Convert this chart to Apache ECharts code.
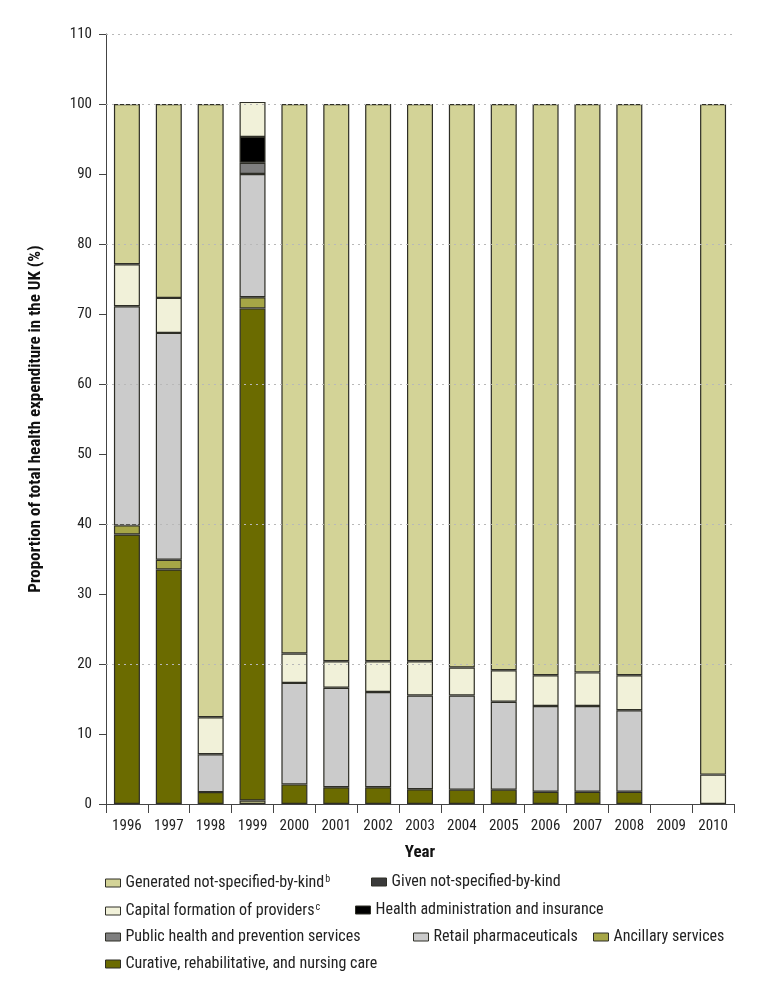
<!DOCTYPE html>
<html>
<head>
<meta charset="utf-8">
<script src="https://cdn.jsdelivr.net/npm/echarts@6/dist/echarts.min.js"></script>
<style>
html,body{margin:0;padding:0;background:#fff;}
#chart{width:771px;height:989px;}
</style>
</head>
<body>
<div id="chart"></div>
<script>
var years = ['1996','1997','1998','1999','2000','2001','2002','2003','2004','2005','2006','2007','2008','2009','2010'];
// bottom khaki slice drawn under curative care in 1999
var generatedBottom = [null,null,null,0.5,null,null,null,null,null,null,null,null,null,null,null];
var curative   = [38.5,33.5,1.7,70.3,2.8,2.4,2.4,2.1,2.05,2.05,1.75,1.75,1.75,null,null];
var ancillary  = [1.3,1.4,null,1.6,null,null,null,null,null,null,null,null,null,null,null];
var retail     = [31.3,32.4,5.4,17.6,14.5,14.2,13.6,13.4,13.45,12.55,12.25,12.25,11.65,null,null];
var publicHealth = [null,null,null,1.6,null,null,null,null,null,null,null,null,null,null,null];
var healthAdmin  = [null,null,null,3.7,null,null,null,null,null,null,null,null,null,null,null];
var givenNSK     = [null,null,null,null,null,null,null,null,null,null,null,null,null,null,null];
var capital    = [6.0,5.0,5.3,5.0,4.2,3.8,4.4,4.9,4.0,4.5,4.4,4.8,5.0,null,4.2];
var generated  = [22.9,27.7,87.6,null,78.5,79.6,79.6,79.6,80.5,80.9,81.6,81.2,81.6,null,95.8];
var gridValues = [20,40,60,80,100,110];
var yTicks = {min:0, max:110, interval:10};

var FONT = '"Roboto Condensed", "Liberation Sans Narrow", "DejaVu Sans Condensed", Roboto, sans-serif';
var names = {
  gen: 'Generated not-specified-by-kind',
  given: 'Given not-specified-by-kind',
  cap: 'Capital formation of providers',
  adm: 'Health administration and insurance',
  pub: 'Public health and prevention services',
  ret: 'Retail pharmaceuticals',
  anc: 'Ancillary services',
  cur: 'Curative, rehabilitative, and nursing care'
};
var colors = {
  gen:'#d3d397', given:'#3a3a3a', cap:'#f1f1d9', adm:'#000000',
  pub:'#7f7f7f', ret:'#cbcbcb', anc:'#a6a646', cur:'#6b6b00'
};
function bar(key, data, extra){
  var s = {
    name: names[key], type:'bar', stack:'t', data:data, barWidth:26,
    itemStyle:{color:colors[key], borderColor:'#2e2e26', borderWidth:1.2},
    emphasis:{disabled:true}
  };
  if (extra) for (var k in extra) s[k]=extra[k];
  return s;
}
var series = [
  bar('gen', generatedBottom, {markLine:{
      silent:true, symbol:'none', label:{show:false},
      lineStyle:{type:[2,4], color:'#b8b8b8', width:1},
      data: gridValues.map(function(v){return {yAxis:v};})
  }}),
  bar('cur', curative),
  bar('anc', ancillary),
  bar('ret', retail),
  bar('pub', publicHealth),
  bar('adm', healthAdmin),
  bar('given', givenNSK),
  bar('cap', capital),
  bar('gen', generated)
];

var rich = {
  n:{fontFamily:FONT, fontSize:16, color:'#222'},
  s:{fontFamily:FONT, fontSize:10, color:'#222', verticalAlign:'top', padding:[0,0,8,1]}
};
function leg(key, left, top, sup){
  return {
    data:[names[key]], left:left, top:top, itemWidth:15, itemHeight:8, itemGap:0,
    icon:'rect', selectedMode:false,
    itemStyle:{borderColor:'#2e2e26', borderWidth:1},
    textStyle:{fontFamily:FONT, fontSize:16, color:'#222', rich:rich},
    formatter: sup ? function(n){ return '{n|'+n+'}{s|'+sup+'}'; } : function(n){ return '{n|'+n+'}'; }
  };
}

var chart = echarts.init(document.getElementById('chart'), null, {renderer:'canvas'});
chart.setOption({
  animation:false,
  backgroundColor:'#fff',
  textStyle:{fontFamily:FONT},
  grid:{left:106, right:37, top:34, bottom:185},
  legend:[
    leg('gen',100,869,'b'), leg('given',366,869),
    leg('cap',100,897,'c'), leg('adm',350,897),
    leg('pub',100,924), leg('ret',408,924), leg('anc',588,924),
    leg('cur',100,951)
  ],
  xAxis:{
    type:'category', data:years,
    name:'Year', nameLocation:'middle', nameGap:40,
    nameTextStyle:{fontFamily:FONT, fontSize:17, fontWeight:'bold', color:'#111'},
    axisLine:{lineStyle:{color:'#444', width:1}},
    axisTick:{show:true, length:9, inside:false, alignWithLabel:false, lineStyle:{color:'#444'}},
    axisLabel:{fontFamily:FONT, fontSize:15, color:'#222', margin:15, interval:0}
  },
  yAxis:{
    type:'value', min:yTicks.min, max:yTicks.max, interval:yTicks.interval,
    name:'Proportion of total health expenditure in the UK (%)',
    nameLocation:'middle', nameGap:62, nameRotate:90,
    nameTextStyle:{fontFamily:FONT, fontSize:17, fontWeight:'bold', color:'#111'},
    axisLine:{show:true, lineStyle:{color:'#444', width:1}},
    axisTick:{show:true, length:7, lineStyle:{color:'#444'}},
    axisLabel:{fontFamily:FONT, fontSize:15, color:'#222', margin:14},
    splitLine:{show:false}
  },
  series:series
});
</script>
</body>
</html>
